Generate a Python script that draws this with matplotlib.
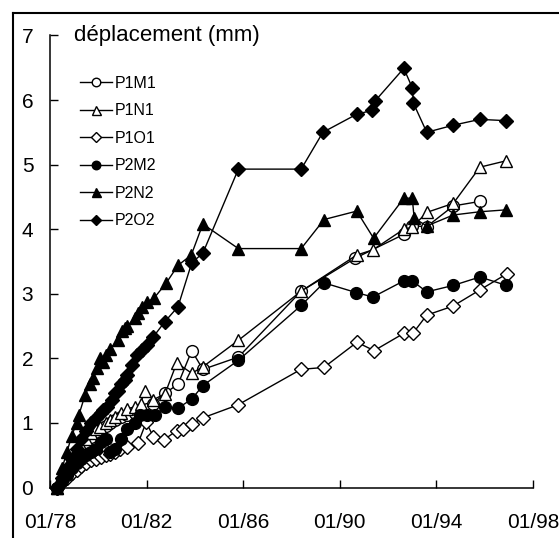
import matplotlib
matplotlib.use("Agg")
import matplotlib.pyplot as plt
from matplotlib.lines import Line2D

plt.rcParams['font.family'] = ['Liberation Sans', 'DejaVu Sans']

# ---- data (decimal years, displacement in mm) ----
p1m1_x = [78.3, 78.5, 78.7, 78.9, 79.1, 79.3, 79.5, 79.7, 79.9, 80.1, 80.3, 80.5, 80.7, 80.95, 81.2,
          81.5, 81.73, 82.0, 82.27, 82.76, 83.3, 83.87, 84.33, 85.8, 88.4, 90.63, 92.65, 93.0, 93.6,
          94.7, 95.8]
p1m1_y = [0, 0.12, 0.25, 0.38, 0.5, 0.6, 0.7, 0.78, 0.85, 0.9, 0.95, 1.0, 1.05, 1.1, 1.12,
          1.15, 1.17, 1.22, 1.3, 1.46, 1.6, 2.12, 1.83, 2.02, 3.04, 3.55, 3.92, 4.05, 4.04,
          4.36, 4.43]

p1n1_x = [78.3, 78.5, 78.7, 78.9, 79.1, 79.3, 79.5, 79.7, 79.9, 80.07, 80.3, 80.5, 80.7, 80.96,
          81.2, 81.5, 81.75, 81.93, 82.27, 82.76, 83.25, 83.87, 84.33, 85.8, 88.4, 90.7, 91.37,
          92.65, 93.0, 93.6, 94.7, 95.8, 96.9]
p1n1_y = [0, 0.15, 0.3, 0.45, 0.55, 0.65, 0.75, 0.85, 0.9, 0.94, 1.0, 1.05, 1.1, 1.16,
          1.22, 1.25, 1.3, 1.5, 1.36, 1.45, 1.93, 1.77, 1.87, 2.28, 3.04, 3.6, 3.68,
          4.0, 4.03, 4.26, 4.40, 4.96, 5.06]

p1o1_x = [78.3, 78.5, 78.7, 78.9, 79.1, 79.3, 79.5, 79.7, 79.9, 80.1, 80.3, 80.5, 80.7, 80.9,
          81.2, 81.65, 81.98, 82.28, 82.72, 83.24, 83.5, 83.88, 84.33, 85.78, 88.39, 89.34,
          90.71, 91.42, 92.66, 93.03, 93.6, 94.69, 95.8, 96.92]
p1o1_y = [0, 0.08, 0.15, 0.22, 0.28, 0.33, 0.38, 0.42, 0.45, 0.48, 0.5, 0.52, 0.55, 0.6,
          0.63, 0.69, 1.01, 0.79, 0.74, 0.88, 0.91, 0.98, 1.08, 1.28, 1.83, 1.86,
          2.25, 2.12, 2.39, 2.39, 2.67, 2.81, 3.06, 3.31]

p2m2_x = [78.3, 78.5, 78.7, 78.9, 79.1, 79.3, 79.5, 79.7, 79.9, 80.1, 80.3, 80.5, 80.7, 80.95,
          81.2, 81.5, 81.73, 82.0, 82.35, 82.76, 83.3, 83.87, 84.33, 85.8, 88.4, 89.34, 90.67,
          91.37, 92.65, 93.0, 93.6, 94.7, 95.8, 96.9]
p2m2_y = [0, 0.1, 0.2, 0.3, 0.38, 0.45, 0.5, 0.55, 0.6, 0.7, 0.75, 0.55, 0.6, 0.75,
          0.9, 1.0, 1.12, 1.12, 1.12, 1.25, 1.23, 1.37, 1.58, 1.97, 2.82, 3.17, 3.02,
          2.95, 3.2, 3.2, 3.03, 3.13, 3.26, 3.13]

p2n2_x = [78.3, 78.5, 78.7, 78.9, 79.1, 79.2, 79.45, 79.65, 79.8, 79.95, 80.07, 80.2, 80.3, 80.5,
          80.8, 81.0, 81.1, 81.2, 81.5, 81.65, 81.8, 82.0, 82.3, 82.8, 83.3, 83.85, 84.33, 85.8,
          88.4, 89.35, 90.7, 91.4, 92.65, 93.0, 93.08, 93.6, 94.7, 95.8, 96.9]
p2n2_y = [0, 0.3, 0.55, 0.8, 1.0, 1.13, 1.43, 1.6, 1.7, 1.85, 2.0, 1.95, 2.05, 2.15,
          2.28, 2.43, 2.47, 2.5, 2.62, 2.7, 2.8, 2.87, 2.93, 3.16, 3.44, 3.6, 4.08, 3.70,
          3.70, 4.15, 4.28, 3.86, 4.48, 4.48, 4.17, 4.05, 4.22, 4.27, 4.30]

p2o2_x = [78.3, 78.5, 78.7, 78.9, 79.1, 79.3, 79.5, 79.7, 79.9, 80.1, 80.2, 80.35, 80.55, 80.7,
          80.8, 80.95, 81.1, 81.2, 81.4, 81.6, 81.8, 82.0, 82.27, 82.76, 83.3, 83.87, 84.33, 85.8,
          88.4, 89.3, 90.7, 91.35, 91.45, 92.65, 93.0, 93.05, 93.6, 94.7, 95.8, 96.9]
p2o2_y = [0, 0.15, 0.3, 0.45, 0.6, 0.75, 0.88, 1.0, 1.08, 1.15, 1.2, 1.25, 1.35, 1.46,
          1.5, 1.6, 1.67, 1.75, 1.9, 2.05, 2.13, 2.2, 2.33, 2.57, 2.8, 3.48, 3.63, 4.93,
          4.93, 5.5, 5.78, 5.84, 5.98, 6.49, 6.19, 5.95, 5.50, 5.61, 5.70, 5.68]

labels = ["P1M1", "P1N1", "P1O1", "P2M2", "P2N2", "P2O2"]
x_ticks = [1978, 1982, 1986, 1990, 1994, 1998]
x_ticklabels = ["01/78", "01/82", "01/86", "01/90", "01/94", "01/98"]
y_ticks = [0, 1, 2, 3, 4, 5, 6, 7]

series = [
    (p1m1_x, p1m1_y, 'o', 'white', 8.5),
    (p1n1_x, p1n1_y, '^', 'white', 9.0),
    (p1o1_x, p1o1_y, 'D', 'white', 7.0),
    (p2m2_x, p2m2_y, 'o', 'black', 8.5),
    (p2n2_x, p2n2_y, '^', 'black', 9.0),
    (p2o2_x, p2o2_y, 'D', 'black', 7.5),
]

W, H = 559, 538
fig = plt.figure(figsize=(W / 100, H / 100), dpi=100)
L, R, B, T = 50, 533, 487.6, 35.4
ax = fig.add_axes([L / W, 1 - B / H, (R - L) / W, (B - T) / H])

handles = []
for (xs, ys, mk, fc, ms), lab in zip(series, labels):
    xx = [1900 + v for v in xs]
    h, = ax.plot(xx, ys, color='black', lw=1.0, marker=mk, markersize=ms,
                 markerfacecolor=fc, markeredgecolor='black', markeredgewidth=1.0,
                 label=lab, clip_on=False)
    handles.append(h)

ax.set_xlim(1978, 1998)
ax.set_ylim(0, 7)
ax.set_xticks(x_ticks)
ax.set_xticklabels(x_ticklabels)
ax.set_yticks(y_ticks)
for s in ['top', 'right']:
    ax.spines[s].set_visible(False)
for s in ['left', 'bottom']:
    ax.spines[s].set_linewidth(1.1)
ax.tick_params(axis='both', direction='in', length=6, width=1.0, labelsize=15)
ax.tick_params(axis='x', pad=18)
ax.tick_params(axis='y', pad=12)

ax.text(1979.0, 7.0, "déplacement (mm)", fontsize=16, ha='left', va='center')

leg = ax.legend(handles=handles, loc='upper left',
                bbox_to_anchor=((80 - L) / (R - L), (B - 76) / (B - T)),
                frameon=False, fontsize=11.5, handlelength=2.0, handletextpad=0.15,
                labelspacing=0.78, borderpad=0, borderaxespad=0, markerscale=0.72)

# outer frame (left and top edges of the scanned figure)
fig.add_artist(Line2D([13 / W, 13 / W], [0, 1 - 13 / H], transform=fig.transFigure,
                      color='black', lw=1.5))
fig.add_artist(Line2D([13 / W, 1], [1 - 13 / H, 1 - 13 / H], transform=fig.transFigure,
                      color='black', lw=1.5))

fig.savefig("out.png", dpi=100)
